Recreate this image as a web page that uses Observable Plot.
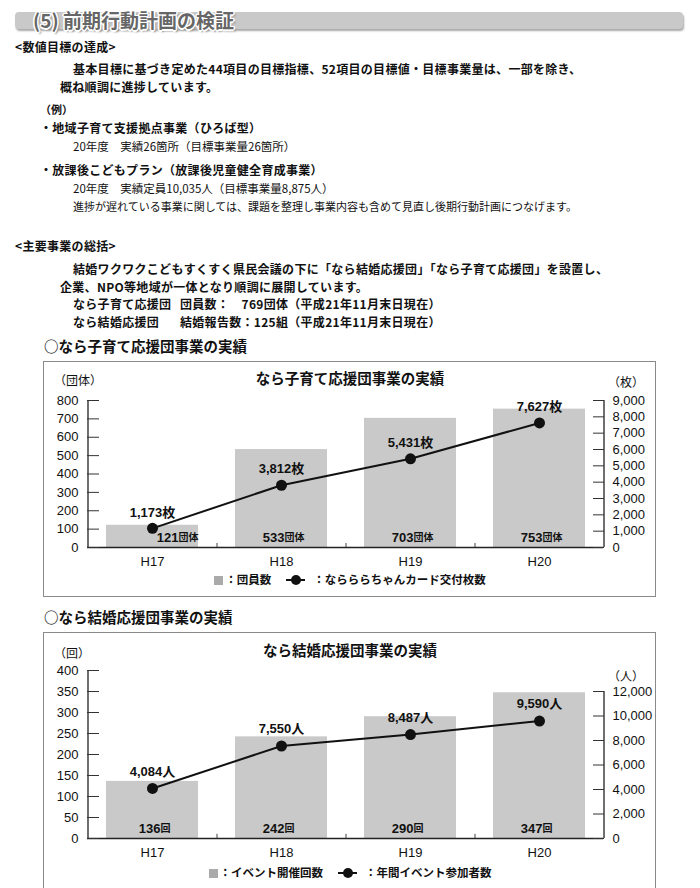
<!DOCTYPE html>
<html><head><meta charset="utf-8">
<script src="https://cdn.jsdelivr.net/npm/d3@7"></script>
<script src="https://cdn.jsdelivr.net/npm/@observablehq/plot@0.6"></script>
<style>
body{margin:0;width:700px;height:888px;position:relative;background:#fff;font-family:"Noto Sans CJK JP",sans-serif;color:#111;overflow:hidden}
.t{position:absolute;white-space:nowrap;line-height:1}
.b{font-weight:700}
.s{font-size:12px;letter-spacing:0.3px}
.n{font-size:11px;font-weight:400}
.hbar{position:absolute;left:15px;top:12px;width:668px;height:17px;background:#c9c9c9;border-radius:4px;box-shadow:1px 2px 2px #aaa}
.htitle{position:absolute;left:33px;top:10px;font-size:19px;font-weight:700;color:#666;line-height:1;
text-shadow:-1.5px 0 #fff,1.5px 0 #fff,0 -1.5px #fff,0 1.5px #fff,-1px -1px #fff,1px 1px #fff,-1px 1px #fff,1px -1px #fff,2px 2px 2px #888}
.box{position:absolute;left:43px;width:613px;border:1.5px solid #8a8a8a;box-sizing:border-box}
.plot{position:absolute;left:44px}
.ctitle{position:absolute;left:44px;width:612px;text-align:center;font-size:14.5px;font-weight:700;line-height:1}
.unit{position:absolute;font-size:12px;line-height:1}
.legend{position:absolute;left:44px;width:612px;display:flex;justify-content:center;align-items:center;font-size:11.5px;font-weight:700;line-height:1}
.sq{display:inline-block;width:9px;height:9px;background:#aaa;margin-right:2px}
</style></head><body>
<div class="hbar"></div>
<div class="htitle">(5) 前期行動計画の検証</div>

<div class="t b s" style="left:15px;top:41px">&lt;数値目標の達成&gt;</div>
<div class="t b s" style="left:73px;top:63px">基本目標に基づき定めた44項目の目標指標、52項目の目標値・目標事業量は、一部を除き、</div>
<div class="t b s" style="left:60px;top:81px">概ね順調に進捗しています。</div>
<div class="t b" style="left:40px;top:104px;font-size:11px">（例）</div>
<div class="t b s" style="left:40px;top:122px">・地域子育て支援拠点事業（ひろば型）</div>
<div class="t n" style="left:73px;top:141px;font-size:11.5px">20年度　実績26箇所（目標事業量26箇所）</div>
<div class="t b s" style="left:40px;top:164px">・放課後こどもプラン（放課後児童健全育成事業）</div>
<div class="t n" style="left:73px;top:183px;font-size:11.5px">20年度　実績定員10,035人（目標事業量8,875人）</div>
<div class="t n" style="left:73px;top:201px">進捗が遅れている事業に関しては、課題を整理し事業内容も含めて見直し後期行動計画につなげます。</div>

<div class="t b s" style="left:15px;top:240px">&lt;主要事業の総括&gt;</div>
<div class="t b s" style="left:73px;top:263px">結婚ワクワクこどもすくすく県民会議の下に「なら結婚応援団」「なら子育て応援団」を設置し、</div>
<div class="t b s" style="left:60px;top:280.5px">企業、NPO等地域が一体となり順調に展開しています。</div>
<div class="t b s" style="left:73px;top:298px"><span style="display:inline-block;width:107px;line-height:1">なら子育て応援団</span>団員数：　769団体（平成21年11月末日現在）</div>
<div class="t b s" style="left:73px;top:315.5px"><span style="display:inline-block;width:107px;line-height:1">なら結婚応援団</span>結婚報告数：125組（平成21年11月末日現在）</div>

<div class="t b" style="left:44px;top:339px;font-size:14.5px">○なら子育て応援団事業の実績</div>
<div class="box" style="top:361px;height:236px"></div>
<div id="c1" class="plot" style="top:362px"></div>
<div class="ctitle" style="top:371px">なら子育て応援団事業の実績</div>
<div class="unit" style="left:54px;top:374px">（団体）</div>
<div class="unit" style="left:608px;top:376px">（枚）</div>
<div class="legend" style="top:574px"><span class="sq"></span>：団員数<svg width="26" height="12" style="margin:0 2px 0 14px"><line x1="1" y1="6" x2="20" y2="6" stroke="#111" stroke-width="2"/><circle cx="11" cy="6" r="5" fill="#111"/></svg>：ならららちゃんカード交付枚数</div>

<div class="t b" style="left:44px;top:610px;font-size:14.5px">○なら結婚応援団事業の実績</div>
<div class="box" style="top:632px;height:257px"></div>
<div id="c2" class="plot" style="top:633px"></div>
<div class="ctitle" style="top:643px">なら結婚応援団事業の実績</div>
<div class="unit" style="left:54px;top:647px">（回）</div>
<div class="unit" style="left:608px;top:670px">（人）</div>
<div class="legend" style="top:867px"><span class="sq"></span>：イベント開催回数<svg width="26" height="12" style="margin:0 2px 0 14px"><line x1="1" y1="6" x2="20" y2="6" stroke="#111" stroke-width="2"/><circle cx="11" cy="6" r="5" fill="#111"/></svg>：年間イベント参加者数</div>

<script>
const years = ["H17", "H18", "H19", "H20"];
const members = [121, 533, 703, 753];
const cards = [1173, 3812, 5431, 7627];
const events = [136, 242, 290, 347];
const participants = [4084, 7550, 8487, 9590];
const leftTicks1 = [0, 100, 200, 300, 400, 500, 600, 700, 800];
const rightTicks1 = [0, 1000, 2000, 3000, 4000, 5000, 6000, 7000, 8000, 9000];
const leftTicks2 = [0, 50, 100, 150, 200, 250, 300, 350, 400];
const rightTicks2 = [0, 2000, 4000, 6000, 8000, 10000, 12000];

const fmt = d3.format(",");
const W = 612, ML = 43, MR = 53;
const step = (W - ML - MR) / years.length;
const FONT = "Liberation Sans, Arial, Noto Sans CJK JP, sans-serif";

function chart({height, mt, mb, bars, line, leftTicks, leftMax, rightTicks, rightMax, rightTop, unitBar, unitLine, firstDx, lineDy, smallTick}) {
  const k = rightTop / rightMax; // secondary axis mapping onto primary scale
  const rows = years.map((y, i) => ({cat: y, bar: bars[i], line: line[i], ly: line[i] * k}));
  return Plot.plot({
    width: W, height, marginLeft: ML, marginRight: MR, marginTop: mt, marginBottom: mb,
    style: {fontFamily: FONT, color: "#111", background: "transparent", overflow: "visible"},
    x: {domain: years, paddingInner: 0.29, paddingOuter: 0.145, axis: null},
    y: {domain: [0, leftMax], axis: null},
    marks: [
      Plot.barY(rows, {x: "cat", y: "bar", fill: "#c9c9c9"}),
      Plot.ruleX([years[0]], {x: d => d, dx: -step / 2, y1: 0, y2: leftMax, stroke: "#222", strokeWidth: 1.3}),
      Plot.ruleX([years[years.length - 1]], {x: d => d, dx: step / 2, y1: 0, y2: rightTop, stroke: "#222", strokeWidth: 1.3}),
      Plot.ruleY([0], {stroke: "#222", strokeWidth: 1.3}),
      Plot.ruleX(years.slice(1), {x: d => d, dx: -step / 2, y1: 0, y2: smallTick, stroke: "#444", strokeWidth: 1}),
      Plot.axisY(leftTicks, {anchor: "left", tickSize: -12, tickPadding: 21, fontSize: 13, stroke: "#333", label: null}),
      Plot.axisY(rightTicks.map(v => v * k), {anchor: "right", tickSize: -11, tickPadding: 20, fontSize: 13, stroke: "#333", label: null,
        tickFormat: d => fmt(Math.round(d / k))}),
      Plot.axisX({tickSize: 0, tickPadding: 9, fontSize: 13, label: null}),
      Plot.line(rows, {x: "cat", y: "ly", stroke: "#111", strokeWidth: 2}),
      Plot.dot(rows, {x: "cat", y: "ly", r: 5.5, fill: "#111"}),
      Plot.text(rows, {x: "cat", y: "ly", text: d => fmt(d.line) + unitLine, dy: lineDy, fontSize: 13, fontWeight: "bold"}),
      Plot.text(rows.slice(0, 1), {x: "cat", y: 0, text: d => String(d.bar), dx: firstDx, dy: -10, textAnchor: "end", fontSize: 13, fontWeight: "bold"}),
      Plot.text(rows.slice(0, 1), {x: "cat", y: 0, text: () => unitBar, dx: firstDx, dy: -10, textAnchor: "start", fontSize: 10, fontWeight: "bold"}),
      Plot.text(rows.slice(1), {x: "cat", y: 0, text: d => String(d.bar), dx: 3, dy: -10, textAnchor: "end", fontSize: 13, fontWeight: "bold"}),
      Plot.text(rows.slice(1), {x: "cat", y: 0, text: () => unitBar, dx: 3, dy: -10, textAnchor: "start", fontSize: 10, fontWeight: "bold"})
    ]
  });
}

document.getElementById("c1").append(chart({
  height: 234, mt: 38, mb: 49, bars: members, line: cards,
  leftTicks: leftTicks1, leftMax: 800, rightTicks: rightTicks1, rightMax: 9000, rightTop: 800,
  unitBar: "団体", unitLine: "枚", firstDx: 26, lineDy: -16, smallTick: 22
}));
document.getElementById("c2").append(chart({
  height: 254, mt: 37, mb: 49, bars: events, line: participants,
  leftTicks: leftTicks2, leftMax: 400, rightTicks: rightTicks2, rightMax: 12000, rightTop: 350,
  unitBar: "回", unitLine: "人", firstDx: 8, lineDy: -17, smallTick: 10
}));
</script>
</body></html>
